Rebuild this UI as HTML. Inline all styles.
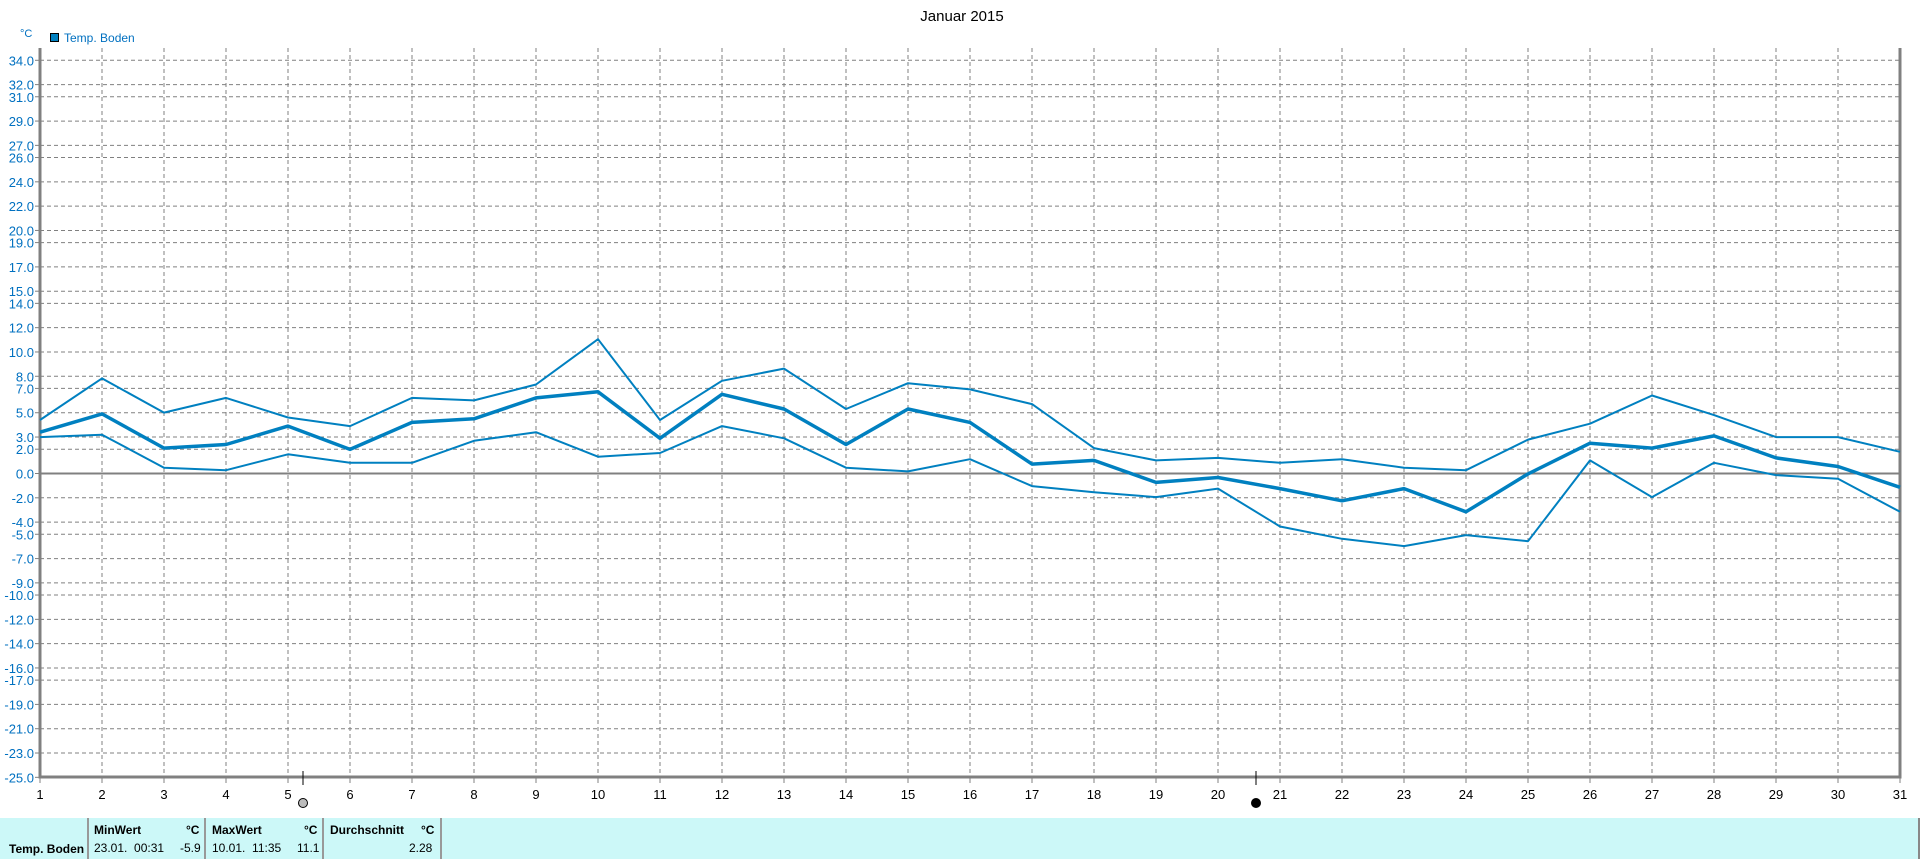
<!DOCTYPE html>
<html><head><meta charset="utf-8"><style>
body{margin:0;width:1920px;height:859px;background:#fff;overflow:hidden;font-family:"Liberation Sans",sans-serif;}
svg{position:absolute;left:0;top:0}
#tbl{position:absolute;left:0;top:818px;width:1918px;height:41px;background:#ccf8f8;border-right:2px solid #888;font-size:12px;color:#000}
#tbl div{position:absolute}
.sep{top:0;width:2px;height:41px;background:#999}
b{font-weight:bold}
</style></head><body>
<svg id="s" width="1920" height="818" font-family="Liberation Sans, sans-serif"></svg>
<div id="tbl">
<div class="sep" style="left:87px"></div><div class="sep" style="left:204px"></div><div class="sep" style="left:322px"></div><div class="sep" style="left:440px"></div>
<div style="left:9px;top:24px"><b>Temp. Boden</b></div>
<div style="left:94px;top:5px"><b>MinWert</b></div><div style="left:186px;top:5px"><b>°C</b></div>
<div style="left:94px;top:23px">23.01.&nbsp; 00:31</div><div style="left:180px;top:23px">-5.9</div>
<div style="left:212px;top:5px"><b>MaxWert</b></div><div style="left:304px;top:5px"><b>°C</b></div>
<div style="left:212px;top:23px">10.01.&nbsp; 11:35</div><div style="left:297px;top:23px">11.1</div>
<div style="left:330px;top:5px"><b>Durchschnitt</b></div><div style="left:421px;top:5px"><b>°C</b></div>
<div style="left:409px;top:23px">2.28</div>
</div>
<script>
var s=document.getElementById('s'),h='';
var L=40,R=1900,T=48,B=777,y0=473.5,k=12.153;
function X(d){return L+(d-1)*62;}
function Y(v){return y0-v*k;}
h+='<text x="962" y="21" font-size="15" text-anchor="middle">Januar 2015</text>';
h+='<text x="20" y="37" font-size="11" fill="#0070c0">°C</text>';
h+='<rect x="50.5" y="33.5" width="8" height="8" fill="#0080c0" stroke="#000"/>';
h+='<text x="64" y="42" font-size="12" fill="#0070c0">Temp. Boden</text>';
var labs=[34,32,31,29,27,26,24,22,20,19,17,15,14,12,10,8,7,5,3,2,0,-2,-4,-5,-7,-9,-10,-12,-14,-16,-17,-19,-21,-23,-25];
labs.forEach(function(v){var y=Y(v);
 if(v!==0&&v!==-25)h+='<line x1="'+L+'" x2="'+R+'" y1="'+y+'" y2="'+y+'" stroke="#808080" stroke-dasharray="4,3"/>';
 h+='<line x1="35" x2="40" y1="'+y+'" y2="'+y+'" stroke="#808080"/>';
 h+='<text x="34" y="'+(y+5)+'" font-size="13" fill="#0070c0" text-anchor="end">'+v.toFixed(1)+'</text>';});
for(var d=1;d<=31;d++){var x=X(d);
 if(d>1&&d<31)h+='<line x1="'+x+'" x2="'+x+'" y1="'+T+'" y2="'+B+'" stroke="#808080" stroke-dasharray="4,3"/>';
 h+='<line x1="'+x+'" x2="'+x+'" y1="'+B+'" y2="'+(B+6)+'" stroke="#808080"/>';
 h+='<text x="'+x+'" y="'+(B+22)+'" font-size="13" text-anchor="middle">'+d+'</text>';}
h+='<line x1="'+L+'" x2="'+R+'" y1="'+y0+'" y2="'+y0+'" stroke="#808080" stroke-width="2"/>';
h+='<polyline points="'+L+','+T+' '+L+','+B+' '+R+','+B+' '+R+','+T+'" fill="none" stroke="#808080" stroke-width="3"/>';
var mx=[343,309,337,325,341,348,325,327,314,277,343,311,301,334,313,318,330,366,376,374,378,375,382,384,359,346,323,339,357,357,369];
var av=[353,338,366,363,348,367,345,342,325,320,358,322,334,363,334,345,379,376,394,390,399,409,399,418,387,362,366,356,374,381,398];
var mn=[357,355,382,384,371,378,378,360,353,373,370,348,358,382,385,375,397,402,406,399,430,440,446,437,442,376,406,378,388,391,418];
function pl(a,w){var p=a.map(function(y,i){return X(i+1)+','+(y/0.8167).toFixed(1)}).join(' ');
 return '<polyline points="'+p+'" fill="none" stroke="#0080c0" stroke-width="'+w+'" stroke-linejoin="round"/>';}
h+=pl(mx,2)+pl(mn,2)+pl(av,3.5);
[[303,1],[1256,0]].forEach(function(m){h+='<line x1="'+m[0]+'" x2="'+m[0]+'" y1="'+(B-6)+'" y2="'+(B+8)+'" stroke="#000"/>';
 h+='<circle cx="'+m[0]+'" cy="'+(B+26)+'" r="4.5" fill="'+(m[1]?'#bbb':'#000')+'" stroke="#000"/>';});
s.innerHTML=h;
</script>
</body></html>
